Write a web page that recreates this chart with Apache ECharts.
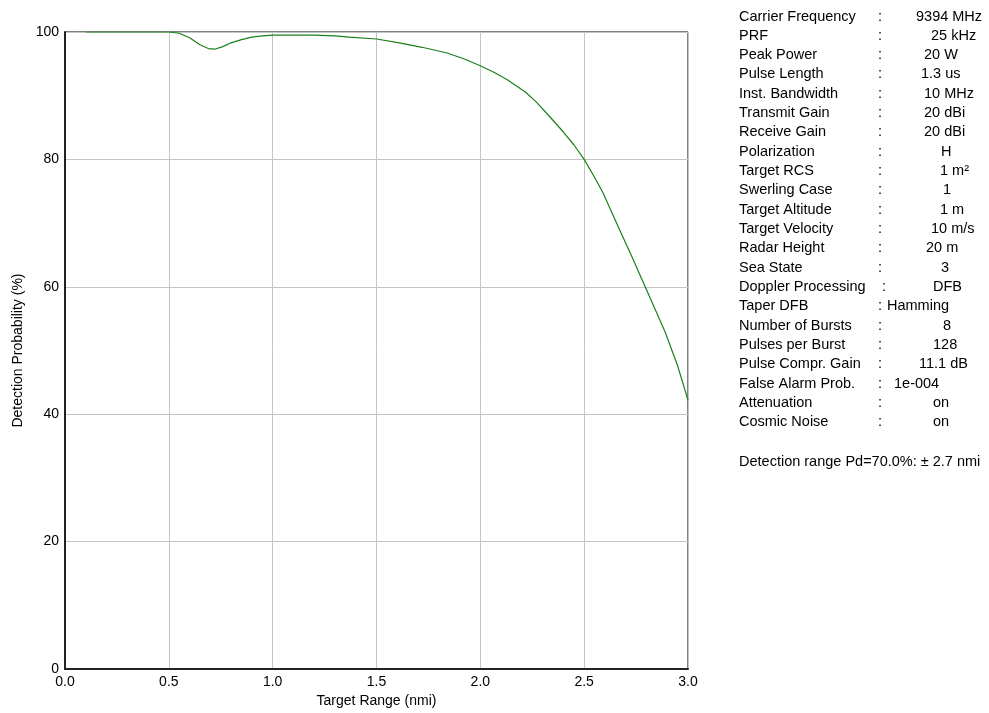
<!DOCTYPE html>
<html>
<head>
<meta charset="utf-8">
<script src="https://cdn.jsdelivr.net/npm/echarts@6/dist/echarts.min.js"></script>
<style>
html,body{margin:0;padding:0;background:#fff;}
#chart{width:989px;height:713px;}
</style>
</head>
<body>
<div id="chart"></div>
<script>
// ---- data ----
var rangeNmi = [0.10, 0.30, 0.50, 0.55, 0.60, 0.65, 0.69, 0.72, 0.76, 0.80, 0.85, 0.90, 0.95, 1.00, 1.10, 1.20, 1.30, 1.37, 1.50, 1.61, 1.72, 1.84, 1.92, 2.00, 2.07, 2.13, 2.22, 2.27, 2.34, 2.40, 2.45, 2.50, 2.55, 2.59, 2.63, 2.67, 2.73, 2.79, 2.84, 2.89, 2.95, 3.00];
var probPct  = [100, 100, 100, 99.8, 99.1, 98.0, 97.4, 97.3, 97.7, 98.3, 98.8, 99.2, 99.4, 99.5, 99.5, 99.5, 99.4, 99.2, 98.9, 98.3, 97.6, 96.7, 95.8, 94.7, 93.6, 92.5, 90.5, 89.0, 86.5, 84.3, 82.3, 80.0, 77.2, 74.8, 71.9, 69.0, 64.7, 60.3, 56.6, 52.9, 47.6, 42.2];
var xTicks = [0.0, 0.5, 1.0, 1.5, 2.0, 2.5, 3.0];
var yTicks = [0, 20, 40, 60, 80, 100];
var paramNames = ['Carrier Frequency','PRF','Peak Power','Pulse Length','Inst. Bandwidth','Transmit Gain','Receive Gain','Polarization','Target RCS','Swerling Case','Target Altitude','Target Velocity','Radar Height','Sea State','Doppler Processing','Taper DFB','Number of Bursts','Pulses per Burst','Pulse Compr. Gain','False Alarm Prob.','Attenuation','Cosmic Noise'];
var paramValues = ['9394 MHz','25 kHz','20 W','1.3 us','10 MHz','20 dBi','20 dBi','H','1 m\u00b2','1','1 m','10 m/s','20 m','3','DFB','Hamming','8','128','11.1 dB','1e-004','on','on'];
var footnote = 'Detection range Pd=70.0%: \u00b1 2.7 nmi';

// ---- layout (positions only) ----
var valueX = [916,931,924,921,924,924,924,941,940,943,940,931,926,941,933,887,943,933,919,894,933,933];
var colonX = [878,878,878,878,878,878,878,878,878,878,878,878,878,878,882,878,878,878,878,878,878,878];

var FONT = '"Liberation Sans", Arial, sans-serif';
var graphics = [];
for (var i = 0; i < paramNames.length; i++) {
  var y = 17 + i * 19.33;
  graphics.push({type:'text', left:739, top:y-8, style:{text:paramNames[i], font:'14.5px ' + FONT, fill:'#000'}});
  graphics.push({type:'text', left:colonX[i], top:y-8, style:{text:':', font:'14.5px ' + FONT, fill:'#000'}});
  graphics.push({type:'text', left:valueX[i], top:y-8, style:{text:paramValues[i], font:'14.5px ' + FONT, fill:'#000'}});
}
graphics.push({type:'text', left:739, top:454, style:{text:footnote, font:'14.5px ' + FONT, fill:'#000'}});

var chart = echarts.init(document.getElementById('chart'), null, {renderer:'canvas'});
chart.setOption({
  animation:false,
  backgroundColor:'#fff',
  textStyle:{fontFamily:FONT},
  grid:{left:65, top:32, right:301, bottom:39, show:true, borderColor:'#000', borderWidth:1, backgroundColor:'transparent'},
  xAxis:{
    type:'value', min:0, max:3, interval:0.5,
    name:'Target Range (nmi)', nameLocation:'middle', nameGap:25,
    nameTextStyle:{fontSize:14, color:'#000', fontFamily:FONT},
    axisLine:{show:true, lineStyle:{color:'#222', width:2}},
    axisTick:{show:false},
    axisLabel:{fontSize:14, color:'#000', margin:6, fontFamily:FONT,
      formatter:function(v){ return xTicks.indexOf(v) >= 0 ? v.toFixed(1) : ''; }},
    splitLine:{show:true, lineStyle:{color:'#c4c4c4', width:1}}
  },
  yAxis:{
    type:'value', min:0, max:100, interval:20,
    name:'Detection Probability (%)', nameLocation:'middle', nameGap:40, nameRotate:90,
    nameTextStyle:{fontSize:14, color:'#000', fontFamily:FONT},
    axisLine:{show:true, lineStyle:{color:'#222', width:2}},
    axisTick:{show:false},
    axisLabel:{fontSize:14, color:'#000', margin:6, fontFamily:FONT,
      formatter:function(v){ return yTicks.indexOf(v) >= 0 ? String(v) : ''; }},
    splitLine:{show:true, lineStyle:{color:'#c4c4c4', width:1}}
  },
  series:[{
    type:'line',
    data:rangeNmi.map(function(x,i){ return [x, probPct[i]]; }),
    showSymbol:false, smooth:false,
    lineStyle:{color:'#1a801a', width:1.2}
  }],
  graphic:graphics
});
</script>
</body>
</html>
